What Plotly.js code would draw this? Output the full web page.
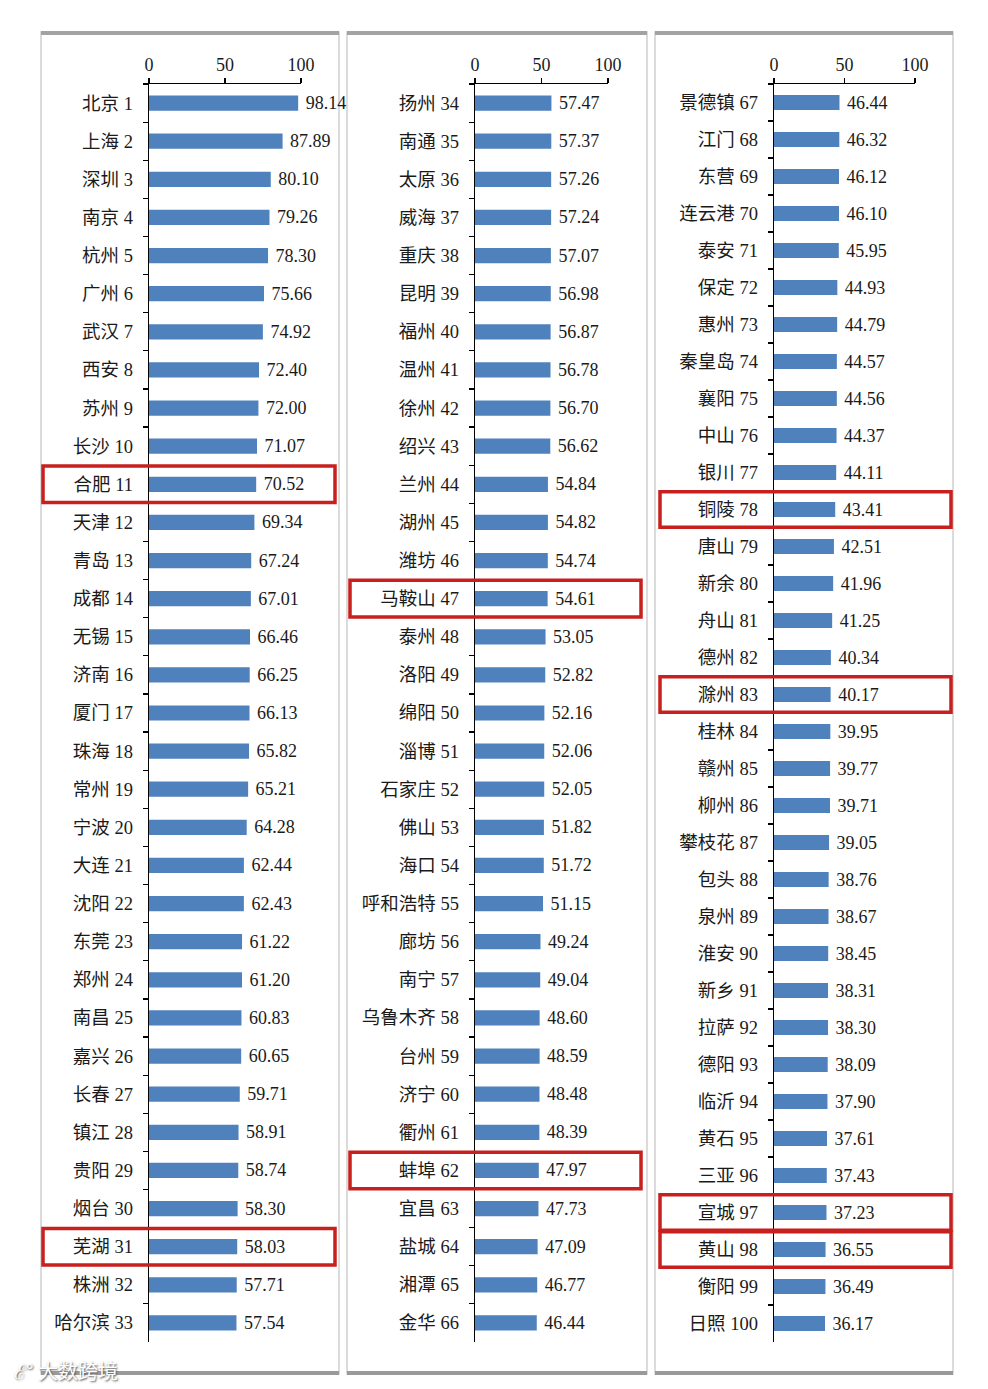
<!DOCTYPE html>
<html>
<head>
<meta charset="utf-8">
<script src="https://cdn.plot.ly/plotly-3.0.1.min.js"></script>
<style>html,body{margin:0;padding:0;background:#fff;}#chart{width:988px;height:1389px;}</style>
</head>
<body>
<div id="chart"></div>
<script>
// ---- Data ----
const cities1 = ["北京","上海","深圳","南京","杭州","广州","武汉","西安","苏州","长沙","合肥","天津","青岛","成都","无锡","济南","厦门","珠海","常州","宁波","大连","沈阳","东莞","郑州","南昌","嘉兴","长春","镇江","贵阳","烟台","芜湖","株洲","哈尔滨"];
const values1 = [98.14,87.89,80.10,79.26,78.30,75.66,74.92,72.40,72.00,71.07,70.52,69.34,67.24,67.01,66.46,66.25,66.13,65.82,65.21,64.28,62.44,62.43,61.22,61.20,60.83,60.65,59.71,58.91,58.74,58.30,58.03,57.71,57.54];
const ranks1 = [1,2,3,4,5,6,7,8,9,10,11,12,13,14,15,16,17,18,19,20,21,22,23,24,25,26,27,28,29,30,31,32,33];

const cities2 = ["扬州","南通","太原","威海","重庆","昆明","福州","温州","徐州","绍兴","兰州","湖州","潍坊","马鞍山","泰州","洛阳","绵阳","淄博","石家庄","佛山","海口","呼和浩特","廊坊","南宁","乌鲁木齐","台州","济宁","衢州","蚌埠","宜昌","盐城","湘潭","金华"];
const values2 = [57.47,57.37,57.26,57.24,57.07,56.98,56.87,56.78,56.70,56.62,54.84,54.82,54.74,54.61,53.05,52.82,52.16,52.06,52.05,51.82,51.72,51.15,49.24,49.04,48.60,48.59,48.48,48.39,47.97,47.73,47.09,46.77,46.44];
const ranks2 = [34,35,36,37,38,39,40,41,42,43,44,45,46,47,48,49,50,51,52,53,54,55,56,57,58,59,60,61,62,63,64,65,66];

const cities3 = ["景德镇","江门","东营","连云港","泰安","保定","惠州","秦皇岛","襄阳","中山","银川","铜陵","唐山","新余","舟山","德州","滁州","桂林","赣州","柳州","攀枝花","包头","泉州","淮安","新乡","拉萨","德阳","临沂","黄石","三亚","宣城","黄山","衡阳","日照"];
const values3 = [46.44,46.32,46.12,46.10,45.95,44.93,44.79,44.57,44.56,44.37,44.11,43.41,42.51,41.96,41.25,40.34,40.17,39.95,39.77,39.71,39.05,38.76,38.67,38.45,38.31,38.30,38.09,37.90,37.61,37.43,37.23,36.55,36.49,36.17];
const ranks3 = [67,68,69,70,71,72,73,74,75,76,77,78,79,80,81,82,83,84,85,86,87,88,89,90,91,92,93,94,95,96,97,98,99,100];

const xTicks = [0, 50, 100];
const highlighted = ["合肥","芜湖","马鞍山","蚌埠","铜陵","滁州","宣城","黄山"];

// ---- Layout helpers ----
const W = 988, H = 1389;
const px = x => x / W;
const py = y => 1 - y / H;
const FONT = "Liberation Serif, Noto Sans CJK SC";
const barColor = "#4F81BD";

const panels = [
  {cities: cities1, values: values1, ranks: ranks1, xd: [149, 301], frame: [41, 339], box: [43, 335]},
  {cities: cities2, values: values2, ranks: ranks2, xd: [475, 608], frame: [347, 647], box: [350, 641]},
  {cities: cities3, values: values3, ranks: ranks3, xd: [774, 915], frame: [655, 953], box: [660, 951]}
];

const traces = [];
const layout = {
  width: W, height: H,
  margin: {l: 0, r: 0, t: 0, b: 0},
  paper_bgcolor: "#fff", plot_bgcolor: "rgba(0,0,0,0)",
  showlegend: false,
  font: {family: FONT, color: "#1a1a1a"},
  shapes: [], annotations: []
};

panels.forEach((p, k) => {
  const sfx = k === 0 ? "" : String(k + 1);
  const labels = p.cities.map((c, i) => c + " " + p.ranks[i]);
  traces.push({
    type: "bar", orientation: "h",
    x: p.values, y: labels,
    xaxis: "x" + sfx, yaxis: "y" + sfx,
    width: 0.4,
    marker: {color: barColor, line: {width: 0}},
    text: p.values.map(v => "\u00a0" + v.toFixed(2)),
    textposition: "outside",
    constraintext: "none",
    cliponaxis: false,
    textfont: {family: FONT, size: 18, color: "#1a1a1a"},
    hoverinfo: "skip"
  });
  layout["xaxis" + sfx] = {
    domain: [px(p.xd[0]), px(p.xd[1])],
    anchor: "y" + sfx, side: "top",
    range: [0, 100], tickvals: xTicks, ticktext: xTicks.map(String),
    showline: true, linecolor: "#000", linewidth: 1.2,
    ticks: "outside", ticklen: 5, tickcolor: "#000", tickwidth: 1.2,
    showgrid: false, zeroline: false, fixedrange: true,
    tickfont: {family: FONT, size: 18, color: "#1a1a1a"}
  };
  layout["yaxis" + sfx] = {
    domain: [py(1342), py(84)],
    anchor: "x" + sfx,
    type: "category", categoryorder: "array", categoryarray: labels,
    autorange: "reversed",
    showline: true, linecolor: "#000", linewidth: 1.3,
    ticks: "outside", tickson: "boundaries", ticklen: 5, tickcolor: "#000", tickwidth: 1.2,
    ticklabelstandoff: 11,
    showgrid: false, zeroline: false, fixedrange: true,
    tickfont: {family: FONT, size: 18.5, color: "#1a1a1a"}
  };
  // panel frame
  layout.shapes.push({type: "rect", xref: "paper", yref: "paper", layer: "below",
    x0: px(p.frame[0]), x1: px(p.frame[1]), y0: py(1374), y1: py(32),
    line: {color: "#cfcfcf", width: 1.5}, fillcolor: "#fff"});
  layout.shapes.push({type: "line", xref: "paper", yref: "paper", layer: "below",
    x0: px(p.frame[0]), x1: px(p.frame[1]), y0: py(33), y1: py(33),
    line: {color: "#a3a3a3", width: 4}});
  layout.shapes.push({type: "line", xref: "paper", yref: "paper", layer: "below",
    x0: px(p.frame[0]), x1: px(p.frame[1]), y0: py(1373), y1: py(1373),
    line: {color: "#9a9a9a", width: 4}});
  // highlight boxes
  p.cities.forEach((c, i) => {
    if (highlighted.indexOf(c) >= 0) {
      layout.shapes.push({type: "rect", xref: "paper", yref: "y" + sfx, layer: "above",
        x0: px(p.box[0]), x1: px(p.box[1]), y0: i - 0.48, y1: i + 0.48,
        line: {color: "#C8201E", width: 3.5}, fillcolor: "rgba(0,0,0,0)"});
    }
  });
});

// watermark
layout.annotations.push({
  xref: "paper", yref: "paper", x: px(12), y: py(1370), xanchor: "left", yanchor: "middle",
  text: "ℰ° 大数跨境", showarrow: false,
  font: {family: "Noto Sans CJK SC, sans-serif", size: 20, color: "#ffffff", shadow: "1px 1px 2px #555"}
});

Plotly.newPlot("chart", traces, layout, {displayModeBar: false, staticPlot: true});
</script>
</body>
</html>
